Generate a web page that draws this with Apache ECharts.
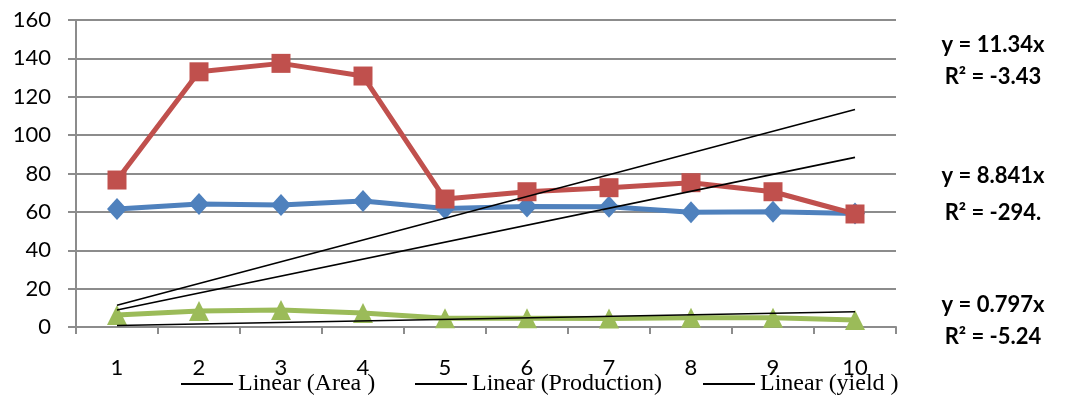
<!DOCTYPE html>
<html><head><meta charset="utf-8">
<script src="https://cdn.jsdelivr.net/npm/echarts@6/dist/echarts.min.js"></script>
<style>html,body{margin:0;padding:0;background:#fff}#c{width:1068px;height:401px}</style>
</head><body><div id="c"></div>
<script>
const categories = ['1','2','3','4','5','6','7','8','9','10'];
const areaValues = [61.5, 64.1, 63.6, 65.7, 61.8, 62.8, 62.7, 59.8, 60.1, 59.2];
const productionValues = [76.6, 133.0, 137.4, 130.8, 66.7, 70.5, 72.6, 75.2, 70.5, 58.9];
const yieldValues = [6.3, 8.4, 8.9, 7.3, 4.6, 4.5, 4.4, 4.8, 4.8, 3.6];
// trendline endpoints (x = 1 and x = 10), read from the equations
const trendArea = [8.841, 88.41];
const trendProduction = [11.34, 113.4];
const trendYield = [0.797, 7.97];
const yTicks = [0, 20, 40, 60, 80, 100, 120, 140, 160];
const equations = [['y = 11.34x', 'R² = -3.43'], ['y = 8.841x', 'R² = -294.'], ['y = 0.797x', 'R² = -5.24']];
const legendNames = ['Linear (Area )', 'Linear (Production)', 'Linear (yield )'];

const chart = echarts.init(document.getElementById('c'));
const gray = '#8c8c8c';
const font = 'Lato, "Open Sans", sans-serif';
function trend(name, ends) {
  return {name: name, type: 'line', data: [[0, ends[0]], [categories.length - 1, ends[1]]],
    symbol: 'none', lineStyle: {color: '#000', width: 1.6}, itemStyle: {color: '#000'}, z: 5, silent: true};
}
function legend(name, left) {
  return {data: [{name: name, icon: 'rect'}], left: left, top: 372, padding: 0, itemWidth: 52, itemHeight: 2, itemGap: 4,
    textStyle: {fontFamily: '"Liberation Serif", "Times New Roman", serif', fontSize: 24, color: '#000', padding: [6, 0, 0, 0]},
    selectedMode: false};
}
const eqGraphics = [];
const eqY = [[45, 77], [176, 213], [305, 337]];
equations.forEach((e, i) => {
  e.forEach((t, j) => {
    eqGraphics.push({type: 'text', x: 993, y: eqY[i][j],
      style: {text: t, font: 'bold 22px ' + font, fill: '#000', textAlign: 'center', textVerticalAlign: 'middle'}});
  });
});
chart.setOption({
  animation: false,
  grid: {left: 76, right: 172, top: 20, bottom: 74},
  xAxis: {type: 'category', data: categories, boundaryGap: true,
    axisLine: {lineStyle: {color: gray, width: 2}},
    axisTick: {show: true, length: 7, lineStyle: {color: gray, width: 2}},
    axisLabel: {margin: 30, fontFamily: font, fontSize: 22, color: '#000'}},
  yAxis: {type: 'value', min: yTicks[0], max: yTicks[yTicks.length - 1], interval: 20,
    axisLine: {show: true, lineStyle: {color: gray, width: 2}},
    axisTick: {show: true, length: 8, lineStyle: {color: gray, width: 2}},
    splitLine: {lineStyle: {color: gray, width: 2}},
    axisLabel: {margin: 25, fontFamily: font, fontSize: 22, color: '#000'}},
  legend: [legend(legendNames[0], 181), legend(legendNames[1], 415), legend(legendNames[2], 703)],
  series: [
    {name: 'Area', type: 'line', data: areaValues, symbol: 'diamond', symbolSize: [20, 22],
      lineStyle: {color: '#4F81BD', width: 5}, itemStyle: {color: '#4F81BD'}, z: 2},
    {name: 'Production', type: 'line', data: productionValues, symbol: 'rect', symbolSize: 19,
      lineStyle: {color: '#C0504D', width: 5}, itemStyle: {color: '#C0504D'}, z: 3},
    {name: 'yield', type: 'line', data: yieldValues, symbol: 'triangle', symbolSize: [20, 20],
      lineStyle: {color: '#9BBB59', width: 5}, itemStyle: {color: '#9BBB59'}, z: 2},
    trend(legendNames[0], trendArea),
    trend(legendNames[1], trendProduction),
    trend(legendNames[2], trendYield)
  ],
  graphic: eqGraphics
});
</script></body></html>
